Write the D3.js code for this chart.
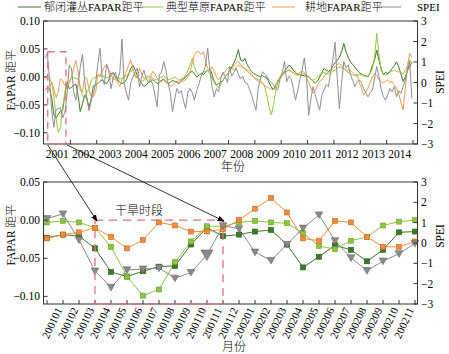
<!DOCTYPE html>
<html>
<head>
<meta charset="utf-8">
<script src="https://cdn.jsdelivr.net/npm/d3@7"></script>
<style>
body { margin: 0; background: #fff; }
text { font-family: "Liberation Serif", "Times New Roman", "Noto Sans CJK SC", serif; font-weight: 300; }
</style>
</head>
<body>
<script>
// legend / series names
var seriesNames = ["郁闭灌丛FAPAR距平", "典型草原FAPAR距平", "耕地FAPAR距平", "SPEI"];
var years = ["2001","2002","2003","2004","2005","2006","2007","2008","2009","2010","2011","2012","2013","2014"];
var monthLabels = ["200101","200102","200103","200104","200105","200106","200107","200108","200109","200110","200111","200112",
                   "200201","200202","200203","200204","200205","200206","200207","200208","200209","200210","200211","200212"];

// monthly values 2001-01 .. 2014-12, one row per year
var shrub = [
  -0.023,-0.019,-0.021,-0.037,-0.068,-0.074,-0.067,-0.061,-0.060,-0.032,-0.010,-0.021,
  -0.019,-0.015,-0.013,-0.032,-0.062,-0.048,-0.033,-0.039,-0.054,-0.039,-0.016,-0.015,
  -0.012,-0.008,-0.005,-0.010,-0.012,-0.005,0.005,0.008,0.000,-0.005,-0.010,-0.012,
  -0.010,-0.005,0.005,0.015,0.021,0.012,0.002,-0.005,-0.012,-0.017,-0.015,-0.010,
  -0.008,-0.005,-0.008,-0.012,-0.010,-0.006,-0.004,-0.008,-0.012,-0.010,-0.006,-0.008,
  -0.010,-0.012,-0.008,-0.004,0.000,0.004,0.008,0.010,0.005,0.000,0.003,0.006,
  0.004,0.008,0.012,0.015,0.005,-0.008,-0.014,-0.012,-0.010,-0.006,0.000,0.005,
  0.010,0.018,0.025,0.035,0.049,0.030,0.028,0.033,0.022,0.015,0.010,0.006,
  0.004,0.002,0.000,0.002,0.000,-0.002,-0.010,-0.018,-0.023,-0.015,-0.008,-0.003,
  0.005,0.010,0.015,0.021,0.018,0.012,0.008,0.005,0.004,0.003,0.002,0.001,
  0.001,-0.004,-0.008,-0.011,-0.008,0.000,0.008,0.015,0.012,0.010,0.012,0.020,
  0.025,0.030,0.035,0.045,0.060,0.045,0.035,0.027,0.022,0.018,0.012,0.008,
  0.005,0.003,0.002,0.000,0.008,0.020,0.030,0.048,0.030,0.015,0.004,0.008,
  0.006,0.010,0.015,0.020,0.027,0.018,0.005,-0.008,0.000,0.012,0.018,0.027
];
var steppe = [
  -0.003,-0.001,-0.003,-0.010,-0.035,-0.074,-0.099,-0.091,-0.055,-0.028,-0.008,-0.008,
  -0.003,-0.001,-0.003,-0.004,-0.017,-0.034,-0.038,-0.027,-0.022,-0.007,-0.002,0.000,
  0.002,0.004,0.003,0.000,-0.002,0.000,0.003,0.005,0.002,-0.002,-0.004,-0.002,
  0.000,0.002,0.006,0.010,0.012,0.004,-0.002,-0.005,-0.008,-0.006,-0.003,-0.002,
  0.000,-0.002,-0.004,-0.006,-0.003,0.000,0.002,-0.002,-0.005,-0.004,-0.002,0.000,
  -0.003,-0.006,-0.004,-0.002,0.004,0.012,0.022,0.033,0.018,0.008,0.004,0.006,
  0.008,0.010,0.012,0.006,-0.002,-0.010,-0.016,-0.020,-0.014,-0.006,0.000,0.005,
  0.010,0.015,0.020,0.025,0.028,0.022,0.018,0.015,0.010,0.006,0.003,0.000,
  -0.003,-0.005,-0.006,-0.010,-0.018,-0.035,-0.055,-0.068,-0.050,-0.025,-0.010,-0.002,
  0.002,0.006,0.010,0.0125,0.010,0.006,0.004,0.003,0.004,0.006,0.005,0.003,
  0.000,-0.004,-0.006,-0.004,0.000,0.004,0.006,0.008,0.006,0.005,0.006,0.010,
  0.012,0.015,0.018,0.016,0.014,0.010,0.008,0.006,0.004,0.002,0.003,0.004,
  0.004,0.002,0.000,0.002,0.006,0.015,0.035,0.078,0.040,0.012,0.005,0.004,
  0.005,0.008,0.010,0.012,0.010,0.009,0.008,0.005,0.012,0.020,0.030,0.025
];
var cropland = [
  -0.024,-0.019,-0.016,-0.010,-0.022,-0.037,-0.026,-0.003,-0.007,-0.015,-0.015,-0.012,
  0.000,0.015,0.029,0.010,-0.024,-0.027,-0.001,-0.003,-0.022,-0.035,-0.035,-0.028,
  0.005,0.000,0.010,0.018,0.021,0.012,0.005,-0.005,-0.003,-0.010,-0.017,-0.005,
  0.000,0.010,0.020,0.030,0.015,0.000,-0.002,0.015,0.005,-0.003,0.000,0.002,
  0.000,0.010,0.005,-0.003,-0.006,-0.008,-0.005,-0.010,-0.012,-0.017,-0.015,-0.010,
  -0.008,-0.010,-0.005,-0.008,-0.005,0.000,0.010,0.025,0.040,0.045,0.045,0.040,
  0.045,0.030,0.015,0.010,0.018,0.010,0.000,-0.005,0.000,0.005,0.010,0.015,
  0.018,0.015,0.012,0.018,0.021,0.019,0.016,0.015,0.012,0.010,0.005,0.000,
  -0.005,-0.008,-0.010,-0.012,-0.015,-0.018,-0.020,-0.022,-0.023,-0.015,-0.005,0.000,
  0.005,0.008,0.010,0.012,0.010,0.008,0.005,0.005,0.008,0.010,0.008,0.000,
  -0.010,-0.020,-0.029,-0.025,-0.015,-0.008,-0.005,0.000,0.006,0.008,0.010,0.015,
  0.018,0.022,0.024,0.020,0.015,0.012,0.012,0.012,0.008,0.005,0.004,-0.010,
  -0.020,-0.032,-0.028,-0.020,-0.010,0.000,0.006,0.003,-0.005,-0.008,-0.011,-0.008,
  -0.005,-0.010,-0.008,-0.015,-0.020,-0.030,-0.045,-0.059,-0.020,0.020,0.042,0.036
];
var spei = [
  1.20,1.43,0.15,-1.38,-2.18,-1.32,-1.28,-1.23,-1.73,-1.45,-0.58,0.85,
  0.70,-0.45,-0.86,-0.07,0.73,1.38,0.11,-0.73,-1.36,-0.89,-0.53,-0.02,
  0.90,1.68,0.20,-0.10,0.90,0.60,-0.30,0.20,0.50,0.10,0.50,2.12,
  -0.04,-0.50,-0.86,0.00,0.30,0.50,0.70,-0.20,0.30,0.60,0.20,0.00,
  0.20,-0.10,-0.60,-1.19,0.37,0.50,1.02,0.60,-0.04,-0.50,-1.43,-0.80,
  -0.29,-0.53,-0.40,-0.90,-1.27,-0.50,-0.29,-0.50,-0.86,-0.40,-0.10,0.30,
  0.50,0.80,1.68,0.60,-0.20,-0.70,-0.30,-0.45,0.20,0.50,0.30,0.00,
  0.78,0.30,0.50,0.70,0.40,0.20,0.30,0.00,-0.04,-0.30,-0.60,-1.00,
  -1.35,-0.30,0.20,0.53,0.40,0.30,0.10,0.00,-0.10,-0.30,-0.37,0.20,
  0.50,1.02,0.04,0.30,0.20,-0.30,-0.86,-0.40,0.12,0.60,1.19,0.30,
  -1.60,-0.80,-0.20,-0.60,-1.00,-1.35,-0.60,-0.37,-0.10,-0.20,0.50,1.10,
  1.96,0.20,-1.27,0.00,1.02,0.70,0.86,0.40,0.10,-0.20,0.00,0.12,
  0.00,-0.30,-0.50,-0.70,-0.50,-0.37,0.20,0.78,0.30,-0.30,-0.70,-0.86,
  -0.60,-0.30,-0.45,-0.20,-0.70,-0.40,-0.53,-0.20,0.12,0.60,1.02,-0.78
];

var leftTicksTop = [-0.10, -0.05, 0.00, 0.05, 0.10];
var leftTicksLow = [-0.10, -0.05, 0.00, 0.05];
var rightTicks = [-3, -2, -1, 0, 1, 2, 3];

var colors = ["#3d7a26", "#96c83c", "#f39a4a", "#8f8f8f"];
var markerFill = ["#3b7a25", "#8cc63f", "#f28c3c", "#8a8a8a"];
var markerEdge = ["#26561a", "#6f9e2c", "#c96a22", "#6a6a6a"];
var dashRed = "#e2707e";

var svg = d3.select("body").append("svg")
    .attr("width", 449)
    .attr("height", 354);

var defs = svg.append("defs");
defs.append("marker")
    .attr("id", "arrow")
    .attr("viewBox", "0 0 10 10")
    .attr("refX", 9).attr("refY", 5)
    .attr("markerWidth", 7).attr("markerHeight", 7)
    .attr("markerUnits", "userSpaceOnUse")
    .attr("orient", "auto")
    .append("path").attr("d", "M0,1 L10,5 L0,9 Z").attr("fill", "#000");

var left = 43.5, right = 417.5;
var allSeries = [shrub, steppe, cropland, spei];

// ---------- top panel ----------
var topY0 = 21, topY1 = 144;
var xTop = d3.scaleLinear().domain([0, 168]).range([44, 413]);
var yTop = d3.scaleLinear().domain([-0.12, 0.10]).range([topY1, topY0]);
var yTopR = d3.scaleLinear().domain([-3, 3]).range([topY1, topY0]);

var gTop = svg.append("g");

// lines
allSeries.forEach(function (vals, k) {
  var yy = k == 3 ? yTopR : yTop;
  var line = d3.line()
      .x(function (d, i) { return xTop(i + 0.5); })
      .y(function (d) { return yy(d); });
  gTop.append("path")
      .datum(vals)
      .attr("d", line)
      .attr("fill", "none")
      .attr("stroke", colors[k])
      .attr("stroke-width", 1);
});

// frame + axes
gTop.append("rect").attr("x", left).attr("y", topY0).attr("width", right - left).attr("height", topY1 - topY0)
    .attr("fill", "none").attr("stroke", "#333").attr("stroke-width", 1);

var axT = gTop.append("g");
axT.selectAll("line.xt").data(d3.range(1, 15)).enter().append("line")
    .attr("x1", function (d) { return xTop(d * 12); }).attr("x2", function (d) { return xTop(d * 12); })
    .attr("y1", topY1).attr("y2", topY1 - 4).attr("stroke", "#333");
axT.selectAll("text.xl").data(years).enter().append("text")
    .attr("x", function (d, i) { return xTop(i * 12 + 6); })
    .attr("y", 158)
    .attr("text-anchor", "middle").attr("font-size", 11.5)
    .text(function (d) { return d; });
axT.selectAll("line.yl").data(leftTicksTop).enter().append("line")
    .attr("x1", left).attr("x2", left + 4)
    .attr("y1", function (d) { return yTop(d); }).attr("y2", function (d) { return yTop(d); })
    .attr("stroke", "#333");
axT.selectAll("text.yl").data(leftTicksTop).enter().append("text")
    .attr("x", 40).attr("y", function (d) { return yTop(d) + 4; })
    .attr("text-anchor", "end").attr("font-size", 11.5)
    .text(function (d) { return d3.format(".2f")(d); });
axT.selectAll("line.yr").data(rightTicks).enter().append("line")
    .attr("x1", right).attr("x2", right - 4)
    .attr("y1", function (d) { return yTopR(d); }).attr("y2", function (d) { return yTopR(d); })
    .attr("stroke", "#333");
axT.selectAll("text.yr").data(rightTicks).enter().append("text")
    .attr("x", 421).attr("y", function (d) { return yTopR(d) + 4; })
    .attr("font-size", 11.5)
    .text(function (d) { return d3.format("d")(d); });

gTop.append("text").attr("transform", "translate(15,80) rotate(-90)")
    .attr("text-anchor", "middle").attr("font-size", 11.5).text("FAPAR 距平");
gTop.append("text").attr("transform", "translate(444,82) rotate(-90)")
    .attr("text-anchor", "middle").attr("font-size", 11.5).text("SPEI");
gTop.append("text").attr("x", 233).attr("y", 171)
    .attr("text-anchor", "middle").attr("font-size", 12).text("年份");

// drought box on top panel
gTop.append("rect")
    .attr("x", xTop(1.7)).attr("y", yTop(0.045))
    .attr("width", xTop(10) - xTop(1.7)).attr("height", topY1 - yTop(0.045))
    .attr("fill", "none").attr("stroke", dashRed).attr("stroke-width", 1.3)
    .attr("stroke-dasharray", "7,5");

// legend
var legX = [18, 140, 272, 378];
var leg = svg.append("g");
seriesNames.forEach(function (name, k) {
  leg.append("line").attr("x1", legX[k]).attr("x2", legX[k] + 23).attr("y1", 7).attr("y2", 7)
      .attr("stroke", colors[k]).attr("stroke-width", 1);
  leg.append("text").attr("x", legX[k] + (k == 3 ? 39 : k == 2 ? 33 : 26)).attr("y", 11)
      .attr("font-size", 11).text(name);
});

// ---------- lower panel ----------
var lowY0 = 182, lowY1 = 304;
var xLow = d3.scalePoint().domain(monthLabels).range([47, 415]);
var yLow = d3.scaleLinear().domain([-0.11, 0.05]).range([lowY1, lowY0]);
var yLowR = d3.scaleLinear().domain([-3, 3]).range([lowY1, lowY0]);

var gLow = svg.append("g");

allSeries.forEach(function (vals, k) {
  var yy = k == 3 ? yLowR : yLow;
  var sub = vals.slice(0, monthLabels.length);
  var line = d3.line()
      .x(function (d, i) { return xLow(monthLabels[i]); })
      .y(function (d) { return yy(d); });
  gLow.append("path").datum(sub).attr("d", line)
      .attr("fill", "none").attr("stroke", k == 3 ? "#8a8a8a" : markerFill[k]).attr("stroke-width", 1);
});

// markers
allSeries.forEach(function (vals, k) {
  var yy = k == 3 ? yLowR : yLow;
  var sub = vals.slice(0, monthLabels.length);
  if (k < 3) {
    gLow.selectAll("rect.m" + k).data(sub).enter().append("rect")
        .attr("x", function (d, i) { return xLow(monthLabels[i]) - 2.5; })
        .attr("y", function (d) { return yy(d) - 2.5; })
        .attr("width", 5).attr("height", 5)
        .attr("fill", markerFill[k]).attr("stroke", markerEdge[k]).attr("stroke-width", 0.6);
  } else {
    gLow.selectAll("path.m3").data(sub).enter().append("path")
        .attr("d", function (d, i) { var s = i == 10 ? 6 : 3.8; return "M" + (-s) + "," + (-s * 0.8) + "L" + s + "," + (-s * 0.8) + "L0," + (s * 0.95) + "Z"; })
        .attr("transform", function (d, i) { return "translate(" + xLow(monthLabels[i]) + "," + yy(d) + ")"; })
        .attr("fill", markerFill[3]).attr("stroke", markerEdge[3]).attr("stroke-width", 0.6);
  }
});

gLow.append("rect").attr("x", left).attr("y", lowY0).attr("width", right - left).attr("height", lowY1 - lowY0)
    .attr("fill", "none").attr("stroke", "#333").attr("stroke-width", 1);

var axL = gLow.append("g");
axL.selectAll("line.xt").data(monthLabels).enter().append("line")
    .attr("x1", function (d) { return xLow(d); }).attr("x2", function (d) { return xLow(d); })
    .attr("y1", lowY1).attr("y2", lowY1 - 4).attr("stroke", "#333");
axL.selectAll("text.xl").data(monthLabels.slice(0, 23)).enter().append("text")
    .attr("transform", function (d) { return "translate(" + (xLow(d) + 5) + ",323) rotate(-65)"; })
    .attr("text-anchor", "middle").attr("dy", "0.35em").attr("font-size", 11)
    .text(function (d) { return d; });
axL.selectAll("line.yl").data(leftTicksLow).enter().append("line")
    .attr("x1", left).attr("x2", left + 4)
    .attr("y1", function (d) { return yLow(d); }).attr("y2", function (d) { return yLow(d); })
    .attr("stroke", "#333");
axL.selectAll("text.yl").data(leftTicksLow).enter().append("text")
    .attr("x", 40).attr("y", function (d) { return yLow(d) + 4; })
    .attr("text-anchor", "end").attr("font-size", 11.5)
    .text(function (d) { return d3.format(".2f")(d); });
axL.selectAll("line.yr").data(rightTicks).enter().append("line")
    .attr("x1", right).attr("x2", right - 4)
    .attr("y1", function (d) { return yLowR(d); }).attr("y2", function (d) { return yLowR(d); })
    .attr("stroke", "#333");
axL.selectAll("text.yr").data(rightTicks).enter().append("text")
    .attr("x", 421).attr("y", function (d) { return yLowR(d) + 4; })
    .attr("font-size", 11.5)
    .text(function (d) { return d3.format("d")(d); });

gLow.append("text").attr("transform", "translate(15,235) rotate(-90)")
    .attr("text-anchor", "middle").attr("font-size", 11.5).text("FAPAR 距平");
gLow.append("text").attr("transform", "translate(444,236) rotate(-90)")
    .attr("text-anchor", "middle").attr("font-size", 11.5).text("SPEI");
gLow.append("text").attr("x", 234).attr("y", 351)
    .attr("text-anchor", "middle").attr("font-size", 12).text("月份");

// drought period box
gLow.append("rect")
    .attr("x", xLow("200104")).attr("y", yLow(0))
    .attr("width", xLow("200112") - xLow("200104")).attr("height", lowY1 - yLow(0))
    .attr("fill", "none").attr("stroke", dashRed).attr("stroke-width", 1.3)
    .attr("stroke-dasharray", "8,6");
gLow.append("text").attr("x", xLow("200107") - 4).attr("y", 215)
    .attr("text-anchor", "middle").attr("font-size", 12)
    .style("font-family", "'Noto Sans CJK SC', sans-serif").text("干旱时段");

// arrows linking the panels
svg.append("line")
    .attr("x1", xTop(1.7)).attr("y1", topY1 + 1)
    .attr("x2", xLow("200104") + 2).attr("y2", yLow(0) + 1)
    .attr("stroke", "#000").attr("stroke-width", 0.8).attr("marker-end", "url(#arrow)");
svg.append("line")
    .attr("x1", xTop(10.5)).attr("y1", topY1 + 1)
    .attr("x2", xLow("200112") + 1).attr("y2", yLow(0) + 1)
    .attr("stroke", "#000").attr("stroke-width", 0.8).attr("marker-end", "url(#arrow)");
</script>
</body>
</html>
